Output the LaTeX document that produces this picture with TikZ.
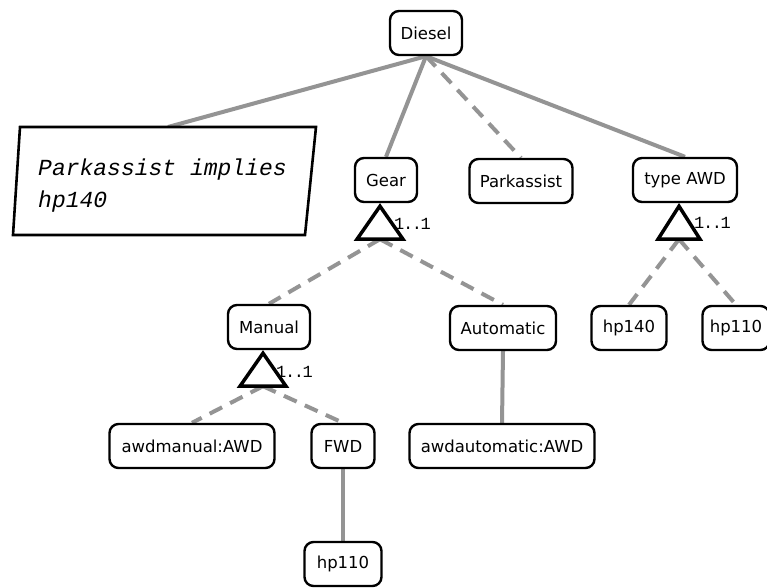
\documentclass[tikz,border=0pt]{standalone}
\usepackage{fontspec}
\setmainfont{DejaVu Sans}
\newfontfamily\notefont{Liberation Mono}
\newfontfamily\cardfont[LetterSpace=-8]{Liberation Mono}
\usetikzlibrary{backgrounds,calc}
\begin{document}
\begin{tikzpicture}[x=1pt,y=-1pt,
  fnode/.style={draw=black, line width=2.4pt, rounded corners=9pt, fill=white,
    minimum height=44pt, inner sep=0pt, font=\fontsize{16.5}{19}\selectfont},
  solidlink/.style={draw=black!42, line width=4pt},
  dashlink/.style={solidlink, dash pattern=on 14pt off 9pt},
  tri/.style={draw=black, line width=3.5pt, fill=white, line join=miter},
  card/.style={font=\cardfont\fontsize{17}{19}\selectfont, inner sep=0pt, anchor=west},
  notetext/.style={font=\notefont\itshape\fontsize{23}{32}\selectfont, inner sep=0pt, align=left},
  notebox/.style={draw=black, line width=2.6pt, fill=white, line join=miter}]
\useasboundingbox (0,0) rectangle (767,587);

% note
\coordinate (n1) at (20,127);
\coordinate (n2) at (316,127);
\coordinate (n3) at (305,235);
\coordinate (n4) at (13,235);
\coordinate (notetop) at (168,127);
\draw[notebox] (n1) -- (n2) -- (n3) -- (n4) -- cycle;
\node[notetext, anchor=north west] (note) at (38,159) {Parkassist implies\\hp140};

% features
\node[fnode, minimum width=72pt]  (diesel) at (426,33)  {Diesel};
\node[fnode, minimum width=62pt]  (gear)   at (386,180) {Gear};
\node[fnode, minimum width=103pt] (park)   at (521,181) {Parkassist};
\node[fnode, minimum width=104pt] (type)   at (685,180) {type AWD};
\node[fnode, minimum width=82pt]  (manual) at (269,327) {Manual};
\node[fnode, minimum width=106pt] (auto)   at (503,328) {Automatic};
\node[fnode, minimum width=75pt]  (hpa)    at (629,328) {hp140};
\node[fnode, minimum width=67pt]  (hpb)    at (736,328) {hp110};
\node[fnode, minimum width=165pt] (awdm)   at (192,446) {awdmanual:AWD};
\node[fnode, minimum width=63pt]  (fwd)    at (343,446) {FWD};
\node[fnode, minimum width=185pt] (awda)   at (502,446) {awdautomatic:AWD};
\node[fnode, minimum width=77pt]  (hpc)    at (343,564) {hp110};

% group triangles
\coordinate (gbase) at ($(gear.south)+(-6,36)$);
\coordinate (tbase) at ($(type.south)+(-6,36)$);
\coordinate (mbase) at ($(manual.south)+(-6,36)$);
\draw[tri] ($(gear.south)+(-6,3)$) -- ($(gear.south)+(-29,36)$) -- ($(gear.south)+(17,36)$) -- cycle;
\draw[tri] ($(type.south)+(-6,3)$) -- ($(type.south)+(-27,36)$) -- ($(type.south)+(15,36)$) -- cycle;
\draw[tri] ($(manual.south)+(-6,3)$) -- ($(manual.south)+(-29,36)$) -- ($(manual.south)+(17,36)$) -- cycle;
\node[card] (gl) at ($(gear.south)+(8,21)$) {1..1};
\node[card] (tl) at ($(type.south)+(9,20)$) {1..1};
\node[card] (ml) at ($(manual.south)+(7,22)$) {1..1};

\begin{pgfonlayer}{background}
  \fill[white] (0,0) rectangle (767,587);
  \draw[solidlink] (diesel.south) -- (notetop);
  \draw[solidlink] (diesel.south) -- (gear.north);
  \draw[dashlink]  (diesel.south) -- (park.north);
  \draw[solidlink] (diesel.south) -- (type.north);
  \draw[dashlink]  (gbase) -- (manual.north);
  \draw[dashlink]  (gbase) -- (auto.north);
  \draw[dashlink]  (tbase) -- (hpa.north);
  \draw[dashlink]  (tbase) -- (hpb.north);
  \draw[dashlink]  (mbase) -- (awdm.north);
  \draw[dashlink]  (mbase) -- (fwd.north);
  \draw[solidlink] (auto.south) -- (awda.north);
  \draw[solidlink] (fwd.south) -- (hpc.north);
\end{pgfonlayer}
\end{tikzpicture}
\end{document}
